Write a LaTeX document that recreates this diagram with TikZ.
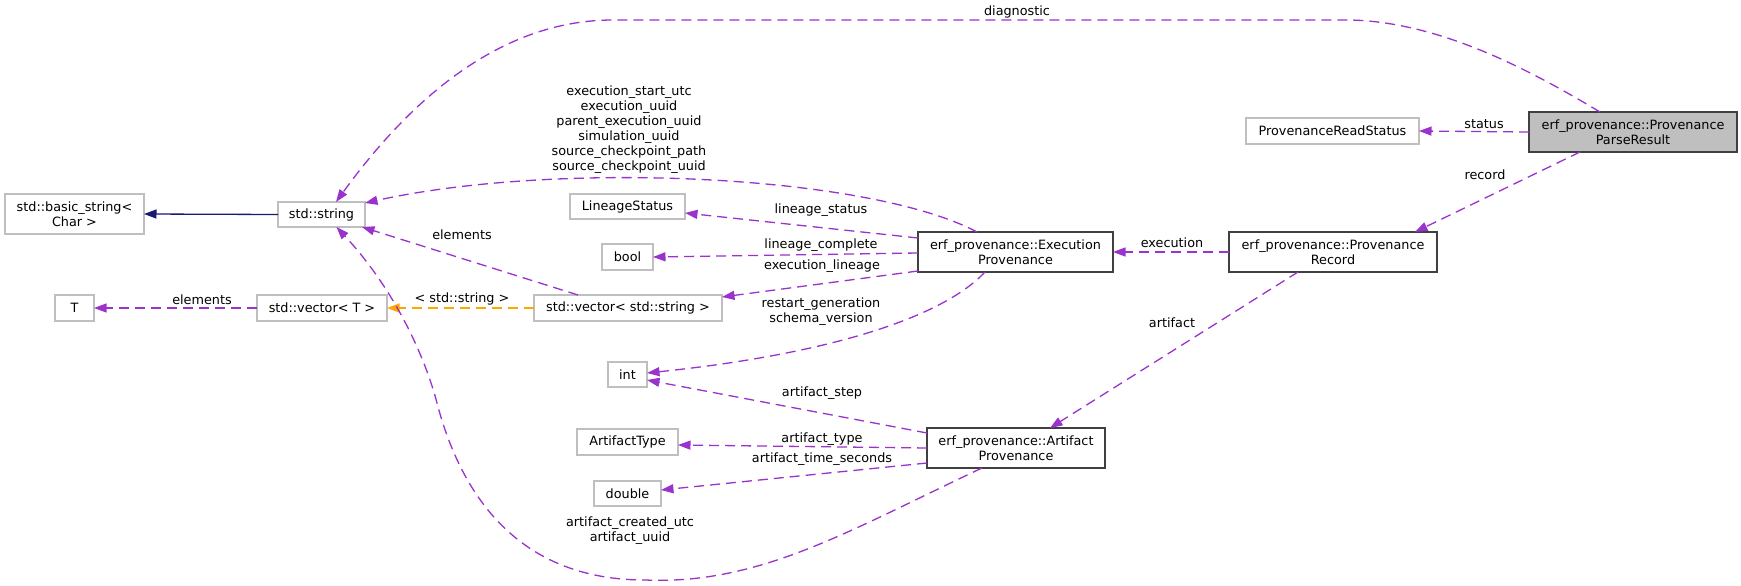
\documentclass[tikz,border=0pt]{standalone}
\usepackage{fontspec}
\setmainfont{DejaVu Sans}
\usetikzlibrary{arrows.meta}
\definecolor{depc}{HTML}{9A32CD}
\definecolor{tmplc}{HTML}{FFA500}
\definecolor{inhc}{HTML}{191970}
\definecolor{extb}{HTML}{BFBFBF}
\definecolor{clsb}{HTML}{404040}
\definecolor{self}{HTML}{BFBFBF}
\begin{document}
\begin{tikzpicture}[x=1pt,y=-1pt,
  every node/.style={font=\fontsize{12.8pt}{15pt}\selectfont, inner sep=0pt, outer sep=0pt, text=black},
  extbox/.style={draw=extb, line width=1.3pt, align=center},
  clsbox/.style={draw=clsb, line width=1.8pt, align=center, fill=white},
  selfbox/.style={draw=clsb, line width=1.8pt, align=center, fill=self},
  lbl/.style={align=center},
  tip/.style={-{Triangle[length=12.5pt,width=9pt]}},
  depedge/.style={draw=depc, line width=1.3pt, dash pattern=on 10pt off 6pt, tip},
  tmpledge/.style={draw=tmplc, line width=1.3pt, dash pattern=on 10pt off 6pt, tip},
  inhedge/.style={draw=inhc, line width=1.3pt, tip}]
\useasboundingbox (0,0) rectangle (1741,586);
\fill[white] (0,0) rectangle (1741,586);

% nodes
\node[extbox, minimum width=139pt, minimum height=40pt] (bstr) at (74.5,214) {std::basic\_string<\\Char >};
\node[extbox, minimum width=87pt, minimum height=25pt] (str) at (321.5,214.5) {std::string};
\node[extbox, minimum width=39pt, minimum height=26pt] (T) at (74.5,308) {T};
\node[extbox, minimum width=130pt, minimum height=26pt] (vecT) at (322,308) {std::vector< T >};
\node[extbox, minimum width=188pt, minimum height=26pt] (vecS) at (628,308) {std::vector< std::string >};
\node[extbox, minimum width=115pt, minimum height=25pt] (lin) at (627.5,206.5) {LineageStatus};
\node[extbox, minimum width=51pt, minimum height=26pt] (bool) at (627.5,257) {bool};
\node[extbox, minimum width=39pt, minimum height=25pt] (int) at (627.5,374.5) {int};
\node[extbox, minimum width=101pt, minimum height=26pt] (at) at (627.5,442) {ArtifactType};
\node[extbox, minimum width=67pt, minimum height=25pt] (dbl) at (627.5,493.5) {double};
\node[clsbox, minimum width=195pt, minimum height=40pt] (exec) at (1015.5,252) {erf\_provenance::Execution\\Provenance};
\node[clsbox, minimum width=208pt, minimum height=40pt] (rec) at (1333,252) {erf\_provenance::Provenance\\Record};
\node[clsbox, minimum width=178pt, minimum height=40pt] (art) at (1016,448) {erf\_provenance::Artifact\\Provenance};
\node[extbox, minimum width=173pt, minimum height=26pt] (rs) at (1332.5,131) {ProvenanceReadStatus};
\node[selfbox, minimum width=208pt, minimum height=40pt] (pr) at (1633,132) {erf\_provenance::Provenance\\ParseResult};

% edges
\draw[inhedge] (str.west) -- (bstr.east);
\draw[depedge] (vecT.west) -- (T.east);
\draw[tmpledge] (vecS.west) -- (vecT.east);
\draw[depedge] ([xshift=-50pt]vecS.north) -- ([xshift=-3pt]str.south east);
\draw[depedge] ([xshift=-38.5pt]exec.north) .. controls (870,175) and (560,160) .. ([yshift=-1pt]str.north east);
\draw[depedge] ([yshift=14pt]exec.west) -- ([yshift=-6.5pt]lin.east);
\draw[depedge] ([yshift=-1pt]exec.west) -- (bool.east);
\draw[depedge] ([yshift=-19pt]exec.west) -- ([yshift=11pt]vecS.east);
\draw[depedge] ([xshift=-30.5pt]exec.south) .. controls (940,320) and (820,355) .. ([yshift=1.5pt]int.east);
\draw[depedge] (rec.west) -- (exec.east);
\draw[depedge] ([xshift=-35pt]rec.south) -- ([xshift=34pt]art.north);
\draw[depedge] ([yshift=15pt]art.west) -- ([yshift=-5.5pt]int.east);
\draw[depedge] (art.west) -- ([yshift=-3pt]at.east);
\draw[depedge] ([yshift=-15pt]art.west) -- ([yshift=3.5pt]dbl.east);
\draw[depedge] ([xshift=-34pt]art.south) .. controls (850,530) and (760,585) .. (645,580)
   .. controls (530,580) and (465,510) .. (437,403)
   .. controls (425,357) and (395,290) .. ([xshift=15pt]str.south);
\draw[depedge] (pr.west) -- (rs.east);
\draw[depedge] ([xshift=-53pt]pr.south) -- ([xshift=82pt]rec.north);
\draw[depedge] ([xshift=-33pt]pr.north) .. controls (1530,70) and (1440,22) .. (1350,20)
   -- (613,20) .. controls (500,20) and (410,100) .. ([xshift=14.5pt]str.north);

% labels
\node[lbl] (l1) at (1017,12) {diagnostic};
\node[lbl] (l2) at (1484,124) {status};
\node[lbl] (l3) at (1485,175) {record};
\node[lbl] (l4) at (1172,243) {execution};
\node[lbl] (l5) at (1172,323) {artifact};
\node[lbl] (l6) at (629,130) {execution\_start\_utc\\execution\_uuid\\parent\_execution\_uuid\\simulation\_uuid\\source\_checkpoint\_path\\source\_checkpoint\_uuid};
\node[lbl] (l7) at (821,210) {lineage\_status};
\node[lbl] (l8) at (821,245) {lineage\_complete};
\node[lbl] (l9) at (822,266) {execution\_lineage};
\node[lbl] (l10) at (821,312) {restart\_generation\\schema\_version};
\node[lbl] (l11) at (462,235) {elements};
\node[lbl] (l12) at (462,299) {< std::string >};
\node[lbl] (l13) at (202,300) {elements};
\node[lbl] (l14) at (822,393) {artifact\_step};
\node[lbl] (l15) at (822,439) {artifact\_type};
\node[lbl] (l16) at (822,459) {artifact\_time\_seconds};
\node[lbl] (l17) at (630,531) {artifact\_created\_utc\\artifact\_uuid};
\end{tikzpicture}
\end{document}
